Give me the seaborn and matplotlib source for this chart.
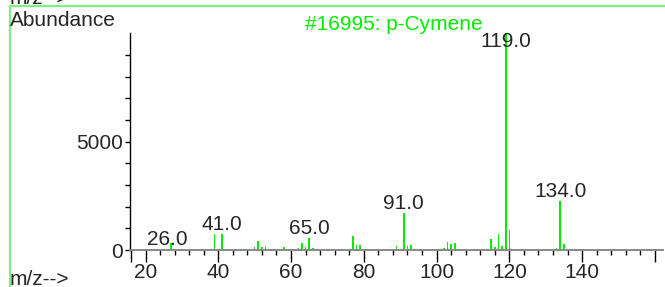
import numpy as np
import matplotlib
matplotlib.use('Agg')
import matplotlib.pyplot as plt
from matplotlib.lines import Line2D
from matplotlib.ticker import FixedLocator, MultipleLocator
import seaborn as sns

# mass spectrum of p-Cymene (library hit #16995)
mz = [26, 27, 38, 39, 40, 41, 50, 51, 52, 53, 58, 62, 63, 64, 65, 66,
      74, 75, 77, 78, 79, 89, 90, 91, 92, 93, 102, 103, 104, 105,
      115, 116, 117, 118, 119, 120, 133, 134, 135]
abundance = [50, 310, 60, 725, 40, 725, 150, 430, 140, 170, 150, 80, 310, 120, 540, 75,
             30, 40, 645, 210, 210, 180, 40, 1690, 185, 245, 90, 370, 260, 305,
             510, 155, 740, 200, 10000, 925, 75, 2260, 290]
labeled_mz = [26, 41, 65, 91, 119, 134]
title = "#16995: p-Cymene"

sns.set_style('white')
plt.rcParams['font.family'] = ['Liberation Sans', 'DejaVu Sans']
plt.rcParams['font.size'] = 15

GREEN = '#00ee00'
FRAME = '#80f080'

fig = plt.figure(figsize=(6.65, 2.87), dpi=100)
ax = fig.add_axes([130 / 665, 1 - 250 / 287, 533 / 665, 217 / 287])

sns.barplot(x=mz, y=abundance, native_scale=True, orient='x', width=0.45,
            color=GREEN, saturation=1, edgecolor='none', linewidth=0,
            errorbar=None, ax=ax)
for p in ax.patches:
    p.set_edgecolor('none')
    p.set_facecolor(GREEN)

ax.set_xlim(15.74, 162.22)
ax.set_ylim(0, 10014)
ax.set_xlabel('')
ax.set_ylabel('')

# peak labels
lookup = dict(zip(mz, abundance))
for m in labeled_mz:
    h = lookup[m]
    if h > 9000:
        ax.text(m, 9370, f'{m:.1f}', ha='center', va='baseline', fontsize=15)
    else:
        ax.annotate(f'{m:.1f}', (m, h), xytext=(0, 3), textcoords='offset points',
                    ha='center', va='baseline', fontsize=15)

# axes styling
for s in ['top', 'right']:
    ax.spines[s].set_visible(False)
ax.spines['left'].set_color('black')
ax.spines['left'].set_linewidth(1.0)
ax.spines['bottom'].set_color('#888888')
ax.spines['bottom'].set_linewidth(1.4)

ax.xaxis.set_major_locator(FixedLocator([16, 20, 40, 60, 80, 100, 120, 140, 160]))
ax.set_xticklabels(['', '20', '40', '60', '80', '100', '120', '140', ''])
ax.xaxis.set_minor_locator(MultipleLocator(4))
ax.yaxis.set_major_locator(FixedLocator([0, 5000]))
ax.yaxis.set_minor_locator(FixedLocator([1000, 2000, 3000, 4000, 6000, 7000, 8000, 9000]))
ax.set_yticklabels(['0', '5000'])

ax.tick_params(axis='x', which='major', direction='out', length=8.4, width=1,
               color='black', pad=1, labelsize=15, bottom=True)
ax.tick_params(axis='x', which='minor', direction='out', length=3.6, width=1,
               color='black', bottom=True)
ax.tick_params(axis='y', which='both', direction='out', length=3.3, width=1,
               color='black', pad=1.8, labelsize=15, left=True)

# header / footer texts
fig.text(10 / 665, 1 - 26 / 287, 'Abundance', ha='left', va='baseline', fontsize=15)
fig.text(394 / 665, 1 - 30 / 287, title, ha='center', va='baseline', fontsize=15,
         color=GREEN)
fig.text(10 / 665, 2 / 287, 'm/z-->', ha='left', va='baseline', fontsize=15)
fig.text(10 / 665, 1 - 4 / 287, 'm/z-->', ha='left', va='baseline', fontsize=15)

# green frame
fig.add_artist(Line2D([9.5 / 665, 1], [1 - 6 / 287, 1 - 6 / 287],
                      transform=fig.transFigure, color=FRAME, linewidth=1.6))
fig.add_artist(Line2D([9.5 / 665, 9.5 / 665], [0, 1 - 6 / 287],
                      transform=fig.transFigure, color=FRAME, linewidth=1.6))

fig.savefig('out.png', dpi=100)
